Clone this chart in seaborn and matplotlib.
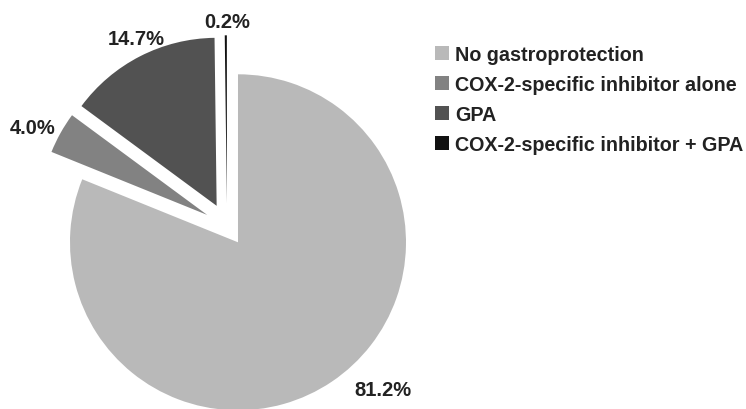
import matplotlib
matplotlib.use("Agg")
import matplotlib.pyplot as plt
import seaborn as sns
import numpy as np

# Share of patients by gastroprotection strategy (%)
categories = [
    "No gastroprotection",
    "COX-2-specific inhibitor alone",
    "GPA",
    "COX-2-specific inhibitor + GPA",
]
shares = [81.2, 4.0, 14.7, 0.2]
colors = ["#b9b9b9", "#828282", "#525252", "#111111"]

# slice offsets as a fraction of the radius
explode_frac = [0.117, 0.135, 0.135, 0.135]
# label placement: distance (in radii) and angular nudge (deg) from slice middle
label_dist = [1.345, 1.296, 1.238, 1.22]
label_shift = [9.6, 2.2, -1.3, -0.4]

sns.set_theme(style="white")
plt.rcParams["font.family"] = ["Liberation Sans", "DejaVu Sans"]

W, H = 746, 410
fig = plt.figure(figsize=(W / 100, H / 100), dpi=100)
ax = fig.add_axes([0, 0, 1, 1])

R = 168
cx, cy = 227, H - 227
wedges, _ = ax.pie(
    shares,
    colors=colors,
    startangle=90,
    counterclock=False,
    explode=[e * R for e in explode_frac],
    radius=R,
    center=(cx, cy),
    wedgeprops=dict(linewidth=0),
)
ax.set_xlim(0, W)
ax.set_ylim(0, H)
ax.set_aspect("equal")
ax.axis("off")

for w, val, d, s in zip(wedges, shares, label_dist, label_shift):
    mid = np.deg2rad((w.theta1 + w.theta2) / 2 + s)
    ax.text(
        cx + d * R * np.cos(mid),
        cy + d * R * np.sin(mid),
        f"{val:.1f}%",
        ha="center",
        va="center",
        fontsize=14.5,
        fontweight="bold",
        color="#222222",
    )

fig.legend(
    wedges,
    categories,
    loc="upper left",
    bbox_to_anchor=(435 / W, 1 - 46 / H),
    frameon=False,
    prop=dict(size=14.2, weight="bold"),
    labelcolor="#222222",
    handlelength=0.7,
    handleheight=0.7,
    handletextpad=0.33,
    labelspacing=0.55,
    borderpad=0,
    borderaxespad=0,
)

fig.savefig("out.png", dpi=100, facecolor="white")
